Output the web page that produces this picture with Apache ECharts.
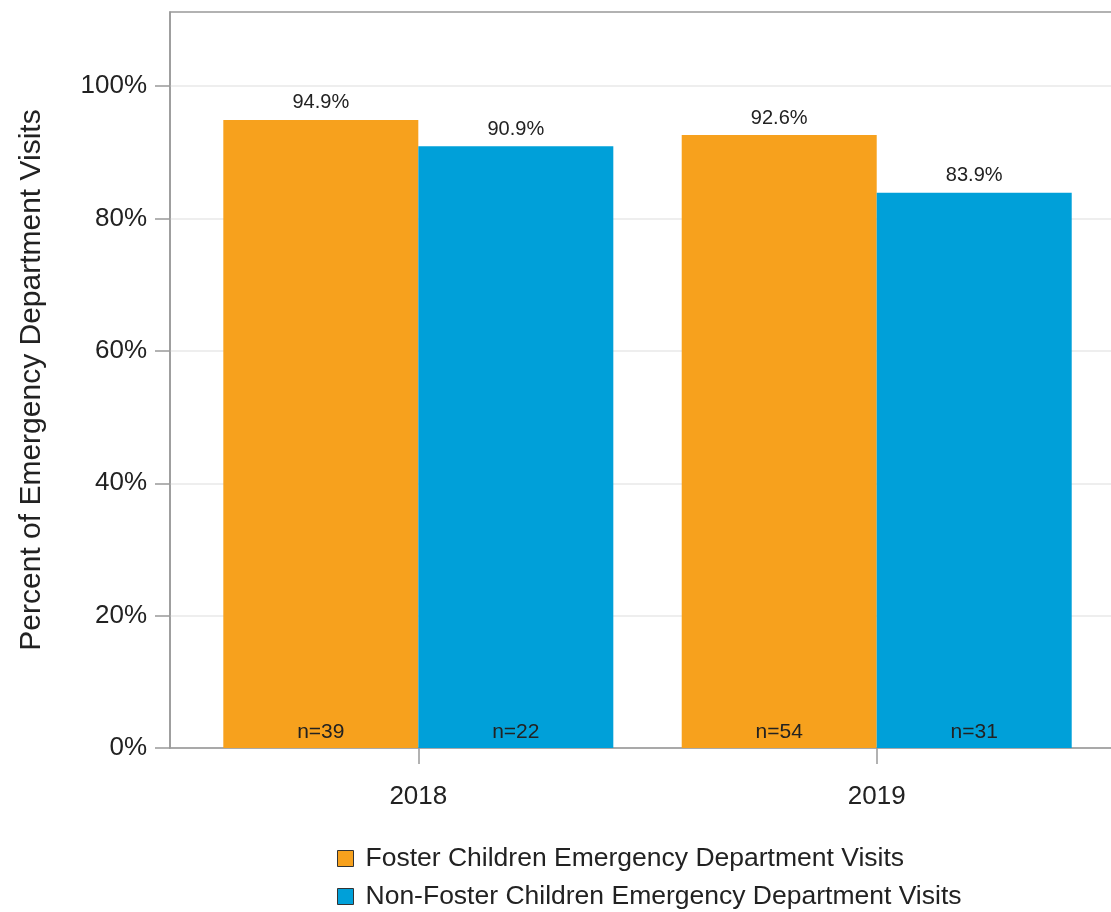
<!DOCTYPE html>
<html style="height: 100%">
<head>
    <meta charset="utf-8">
    <title>ECharts</title>
    <script src="https://cdn.jsdelivr.net/npm/echarts@6/dist/echarts.min.js"></script>
</head>
<body style="height: 100%; margin: 0; background: #fff">
<div id="main" style="width: 1111px; height: 912px"></div>
<script type="text/javascript">

    // data
    var years = [2018, 2019];
    var seriesNames = ['Foster Children Emergency Department Visits', 'Non-Foster Children Emergency Department Visits'];
    var fosterPct = [94.9, 92.6];
    var nonFosterPct = [90.9, 83.9];
    var fosterN = [39, 54];
    var nonFosterN = [22, 31];
    var yTicks = [0, 20, 40, 60, 80, 100];

    var colors = ['#F7A11D', '#00A0D9'];
    var font = 'Liberation Sans, Arial, sans-serif';

    function pairs(vals) {
        return years.map(function (y, i) { return [y, vals[i]]; });
    }
    function zeros() {
        return years.map(function (y) { return [y, 0]; });
    }

    // one column per group: zero-height bar holding the n= label, then the real bar
    function column(name, stack, color, vals, ns) {
        return [
            {
                name: name + ' n',
                type: 'bar',
                stack: stack,
                barWidth: 195,
                barGap: '0%',
                data: zeros(),
                itemStyle: { color: color },
                silent: true,
                label: {
                    show: true,
                    position: 'insideBottom',
                    distance: 5,
                    formatter: function (p) { return 'n=' + ns[p.dataIndex]; },
                    fontFamily: font,
                    fontSize: 21,
                    color: '#222'
                }
            },
            {
                name: name,
                type: 'bar',
                stack: stack,
                barWidth: 195,
                barGap: '0%',
                data: pairs(vals),
                itemStyle: { color: color },
                label: {
                    show: true,
                    position: 'top',
                    distance: 7,
                    formatter: function (p) { return p.value[1].toFixed(1) + '%'; },
                    fontFamily: font,
                    fontSize: 20,
                    color: '#222'
                }
            }
        ];
    }

    var myChart = echarts.init(document.getElementById('main'));

    var option = {
        animation: false,
        grid: {
            left: 170,
            top: 12,
            right: -5,
            bottom: 164,
            outerBoundsMode: 'none',
            containLabel: false,
            show: true,
            borderColor: '#999',
            borderWidth: 1.5,
            backgroundColor: 'transparent'
        },
        legend: {
            data: seriesNames.map(function (n, i) {
                return { name: n, itemStyle: { color: colors[i], borderColor: '#333', borderWidth: 1 } };
            }),
            orient: 'vertical',
            left: 337,
            top: 845,
            height: 67,
            padding: 0,
            itemWidth: 16,
            itemHeight: 16,
            itemGap: 11,
            icon: 'rect',
            textStyle: { fontFamily: font, fontSize: 26.5, color: '#222', padding: [0, 0, 0, 7] }
        },
        xAxis: {
            type: 'value',
            min: 2017.4583,
            max: 2019.522,
            splitLine: { show: false },
            axisLine: { show: true, lineStyle: { color: '#999', width: 1.5 } },
            axisTick: { show: true, length: 16, customValues: years, lineStyle: { color: '#999', width: 1.5 } },
            axisLabel: {
                customValues: years,
                formatter: function (v) { return String(v); },
                margin: 36,
                fontFamily: font,
                fontSize: 26,
                color: '#222'
            }
        },
        yAxis: {
            type: 'value',
            min: 0,
            max: 111.2,
            name: 'Percent of Emergency Department Visits',
            nameLocation: 'middle',
            nameGap: 123,
            nameTextStyle: { fontFamily: font, fontSize: 30, color: '#222' },
            axisLine: { show: true, lineStyle: { color: '#999', width: 1.5 } },
            axisTick: { show: true, length: 15, customValues: yTicks, lineStyle: { color: '#999', width: 1.5 } },
            axisLabel: {
                customValues: yTicks,
                formatter: '{value}%',
                margin: 23,
                fontFamily: font,
                fontSize: 26,
                color: '#222'
            },
            splitLine: { show: true, lineStyle: { color: '#E8E8E8', width: 1.5 } }
        },
        series: column(seriesNames[0], 'f', colors[0], fosterPct, fosterN)
            .concat(column(seriesNames[1], 'nf', colors[1], nonFosterPct, nonFosterN))
    };

    myChart.setOption(option);
</script>
</body>
</html>
